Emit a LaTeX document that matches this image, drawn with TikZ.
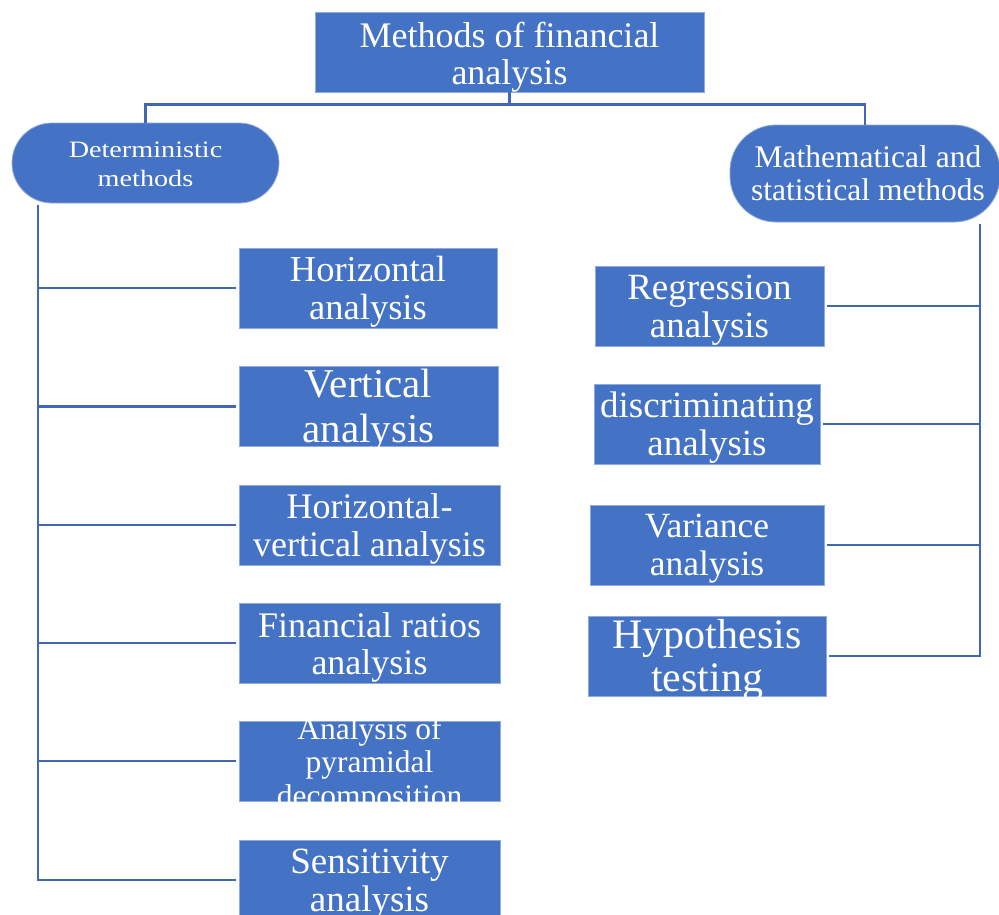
\documentclass[tikz,border=0pt]{standalone}
\usepackage{fontspec}
\setmainfont{Liberation Serif}
\newfontfamily\widefont[FakeStretch=1.2]{Liberation Serif}
\usepackage{tikz}
\usepackage{xcolor}
\definecolor{fablue}{RGB}{68,114,196}
\definecolor{faedge}{RGB}{143,170,220}
\definecolor{faline}{RGB}{64,104,180}
\newcommand{\boxfont}[2]{\fontsize{#1}{#2}\selectfont}
\tikzstyle{link} = [line width=2.6pt, color=faline]
\tikzstyle{method} = [rectangle, draw=faedge, line width=0.8pt, fill=fablue, inner sep=0pt, minimum height=80pt]
\tikzstyle{group} = [method, rounded corners=40pt]
\tikzstyle{every label} = [text=white, align=center, inner sep=0pt, yshift=-4pt]

\begin{document}
\begin{tikzpicture}[x=1pt, y=-1pt]
    \useasboundingbox (0,0) rectangle (999,914);

    % top
    \node[method, minimum width=389pt, label={[font={\boxfont{36}{37}}, yshift=-1pt]center:{Methods of financial\\analysis}}] (fin) at (509.5,52) {};

    % the two groups
    \node[group, minimum width=267pt, label={[font={\widefont\boxfont{23.5}{29}}, yshift=3pt]center:{Deterministic\\methods}}] (det) at (145.5,163) {};
    \node[group, rounded corners=46pt, minimum width=270pt, minimum height=97pt, label={[font={\boxfont{31.5}{33}}, xshift=3pt, yshift=4pt]center:{Mathematical and\\statistical methods}}] (stat) at (865,173.5) {};

    % deterministic methods
    \node[method, minimum width=258pt, label={[font={\boxfont{36.5}{38}}]center:{Horizontal\\analysis}}] (hor) at (368,288) {};
    \node[method, minimum width=259pt, label={[font={\boxfont{41}{45}}]center:{Vertical\\analysis}}] (ver) at (368.5,406.5) {};
    \node[method, minimum width=261pt, label={[font={\boxfont{36}{38}}]center:{Horizontal-\\vertical analysis}}] (horver) at (369.5,525) {};
    \node[method, minimum width=261pt, label={[font={\boxfont{36}{37}}]center:{Financial ratios\\analysis}}] (ratios) at (369.5,643) {};
    \node[method, minimum width=261pt, label={[font={\boxfont{31.5}{33.5}}]center:{Analysis of\\pyramidal\\decomposition}}] (pyr) at (369.5,761) {};
    \node[method, minimum width=261pt, label={[font={\boxfont{37}{38}}]center:{Sensitivity\\analysis}}] (sens) at (369.5,880) {};

    % statistical methods
    \node[method, minimum width=229pt, label={[font={\boxfont{37}{38}}]center:{Regression\\analysis}}] (regr) at (709.5,306) {};
    \node[method, minimum width=226pt, label={[font={\boxfont{37}{38}}]center:{discriminating\\analysis}}] (disc) at (707,424) {};
    \node[method, minimum width=234pt, label={[font={\boxfont{35.5}{38}}]center:{Variance\\analysis}}] (var) at (707,545) {};
    \node[method, minimum width=238pt, label={[font={\boxfont{42}{43}}]center:{Hypothesis\\testing}}] (hyp) at (707,656) {};

    % connectors
    \draw[link] (fin.south) -- ++(0,12) -| (det.north);
    \draw[link] (fin.south) -- ++(0,12) -| (stat.north);

    \coordinate (ltrunk) at (38,205);
    \foreach \b in {hor,ver,horver,ratios,pyr,sens}
        \draw[link] (ltrunk) |- ([xshift=-3pt]\b.west);

    \coordinate (rtrunk) at (980,224);
    \foreach \b in {regr,disc,var,hyp}
        \draw[link] (rtrunk) |- ([xshift=3pt]\b.east);
\end{tikzpicture}
\end{document}
